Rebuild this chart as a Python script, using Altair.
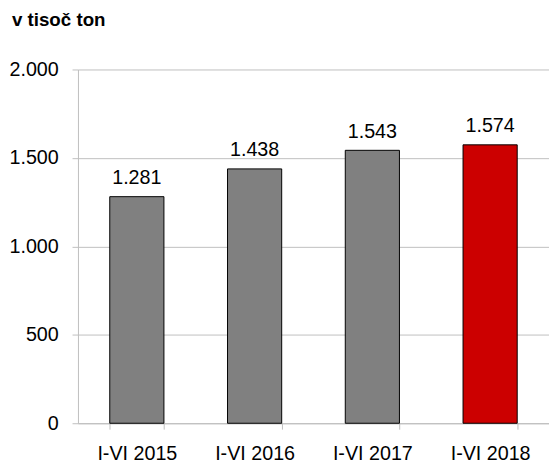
import altair as alt
import pandas as pd

categories = ["I-VI 2015", "I-VI 2016", "I-VI 2017", "I-VI 2018"]
values = [1281, 1438, 1543, 1574]
highlight = ["base", "base", "base", "current"]
y_ticks = [0, 500, 1000, 1500, 2000]
title_text = "v tisoč ton"

labels = [f"{v:,}".replace(",", ".") for v in values]
df = pd.DataFrame({"cat": categories, "val": values, "grp": highlight, "lbl": labels})

FONT = "Liberation Sans"
GRID = "#BFBFBF"

x = alt.X("cat:N", sort=categories, title=None,
          scale=alt.Scale(paddingInner=0.54, paddingOuter=0.27),
          axis=alt.Axis(labelAngle=0, labelFontSize=20, labelFont=FONT, labelColor="#000000",
                        domainColor=GRID, tickColor=GRID, tickSize=6, tickBand="extent",
                        labelPadding=15, grid=False))
y = alt.Y("val:Q", title=None,
          scale=alt.Scale(domain=[0, 2000], nice=False),
          axis=alt.Axis(values=y_ticks, labelExpr="replace(format(datum.value, ','), ',', '.')",
                        labelFontSize=20, labelFont=FONT, labelColor="#000000",
                        domainColor=GRID, tickColor=GRID, tickSize=6, gridColor=GRID,
                        labelPadding=14, grid=True))

bars = alt.Chart(df).mark_bar(stroke="#000000", strokeWidth=1).encode(
    x=x, y=y,
    color=alt.Color("grp:N", scale=alt.Scale(domain=["base", "current"], range=["#808080", "#CC0000"]), legend=None),
)

text = alt.Chart(df).mark_text(fontSize=20, font=FONT, color="#000000", baseline="alphabetic", dy=-13).encode(
    x=alt.X("cat:N", sort=categories), y=alt.Y("val:Q"), text="lbl:N"
)

chart = (bars + text).properties(
    width=478, height=359,
    padding={"left": 0, "top": 0, "right": 0, "bottom": 0},
    title=alt.TitleParams(title_text, anchor="start", frame="bounds", fontSize=19, font=FONT,
                          fontWeight="bold", color="#000000", offset=30, dx=3),
).configure_view(stroke=None)

chart.save("out.html", embed_options={"renderer": "svg", "actions": False})
